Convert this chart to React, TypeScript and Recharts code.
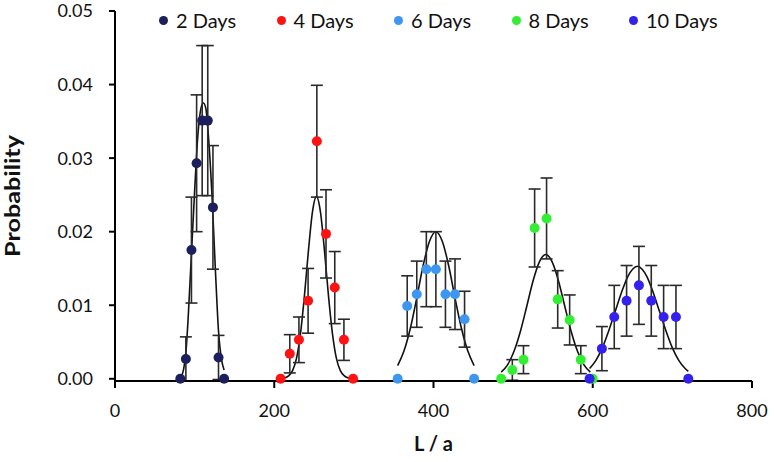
import { ComposedChart, Line, Scatter, XAxis, YAxis, ErrorBar } from 'recharts'

// Measured points (L / a, probability, error) for each growth time
const days2L = [82, 89, 96, 102.5, 109.5, 116.5, 123, 130, 137]
const days2P = [0, 0.0027, 0.0175, 0.0293, 0.0351, 0.0351, 0.0233, 0.0029, 0]
const days2E = [0, 0.003, 0.0072, 0.0093, 0.0102, 0.0102, 0.0084, 0.003, 0]

const days4L = [208, 219.5, 231, 242.5, 253.5, 265, 276, 287.5, 299]
const days4P = [0, 0.0034, 0.0053, 0.0106, 0.0323, 0.0197, 0.0124, 0.0053, 0]
const days4E = [0, 0.0026, 0.0031, 0.0044, 0.0076, 0.006, 0.0049, 0.0028, 0]

const days6L = [355, 367, 379, 391, 403, 415, 427, 439, 451]
const days6P = [0, 0.0099, 0.0115, 0.0149, 0.0149, 0.0115, 0.0115, 0.0081, 0]
const days6E = [0, 0.0041, 0.0045, 0.0051, 0.0051, 0.0045, 0.0048, 0.0038, 0]

const days8L = [485, 499, 513, 527, 542, 556, 571, 585, 600]
const days8P = [0, 0.0012, 0.0026, 0.0205, 0.0218, 0.0108, 0.008, 0.0026, 0]
const days8E = [0, 0.0014, 0.0019, 0.0053, 0.0055, 0.0039, 0.0034, 0.0019, 0]

const days10L = [596, 611.5, 627, 642.5, 658, 673.5, 689, 704.5, 720]
const days10P = [0, 0.0041, 0.0084, 0.0106, 0.0127, 0.0106, 0.0084, 0.0084, 0]
const days10E = [0, 0.003, 0.0043, 0.0048, 0.0053, 0.0048, 0.0043, 0.0043, 0]

// Fitted curves
const fit2L = [82, 86, 89, 92, 96, 100, 104, 108, 111, 114, 118, 122, 126, 130, 134, 137]
const fit2P = [0, 0.0012, 0.0035, 0.0085, 0.017, 0.0255, 0.033, 0.0368, 0.0375, 0.0368, 0.032, 0.0245, 0.015, 0.0065, 0.0025, 0.0012]

const fit4L = [208, 213, 218, 223, 228, 233, 238, 243, 248, 253, 258, 263, 268, 273, 278, 283, 288, 293, 298]
const fit4P = [0, 0.0001, 0.0004, 0.0011, 0.0028, 0.0062, 0.0114, 0.0175, 0.0227, 0.0248, 0.0227, 0.0175, 0.0114, 0.0062, 0.0028, 0.0011, 0.0004, 0.0001, 0]

const fit6L = [355, 363, 371, 379, 387, 395, 403, 411, 419, 427, 435, 443, 451]
const fit6P = [0.0018, 0.0038, 0.0069, 0.011, 0.0154, 0.0187, 0.02, 0.0187, 0.0154, 0.011, 0.0069, 0.0038, 0.0018]

const fit8L = [485, 493, 501, 509, 517, 525, 533, 541, 549, 557, 565, 573, 581, 589, 597]
const fit8P = [0.0009, 0.0019, 0.0037, 0.0064, 0.0098, 0.0133, 0.0159, 0.0169, 0.0159, 0.0133, 0.0098, 0.0064, 0.0037, 0.0019, 0.0009]

const fit10L = [596, 604, 612, 620, 628, 636, 644, 650, 656, 662, 668, 676, 684, 692, 700, 708, 716, 720]
const fit10P = [0.0014, 0.0025, 0.0042, 0.0065, 0.0091, 0.0117, 0.0139, 0.0149, 0.0153, 0.0149, 0.0139, 0.0117, 0.0091, 0.0065, 0.0042, 0.0025, 0.0014, 0.001]

const xTicks = [0, 200, 400, 600, 800]
const yTicks = [0, 0.01, 0.02, 0.03, 0.04, 0.05]

const FONT = 'Lato, "Noto Sans", sans-serif'

const toPoints = (L: number[], P: number[], E: number[]) => L.map((x, i) => ({ x, y: P[i], err: E[i] }))
const toCurve = (L: number[], P: number[]) => L.map((x, i) => ({ x, y: P[i] }))

const series = [
  { name: '2 Days', color: '#1b1f5c', data: toPoints(days2L, days2P, days2E), fit: toCurve(fit2L, fit2P) },
  { name: '4 Days', color: '#ff1212', data: toPoints(days4L, days4P, days4E), fit: toCurve(fit4L, fit4P) },
  { name: '6 Days', color: '#3d97f0', data: toPoints(days6L, days6P, days6E), fit: toCurve(fit6L, fit6P) },
  { name: '8 Days', color: '#33ee33', data: toPoints(days8L, days8P, days8E), fit: toCurve(fit8L, fit8P) },
  { name: '10 Days', color: '#3322ee', data: toPoints(days10L, days10P, days10E), fit: toCurve(fit10L, fit10P) },
]

const tickStyle = { fontSize: 18, fill: '#111', fontFamily: FONT }

export default function App() {
  return (
    <div style={{ position: 'absolute', left: 0, top: 0, width: 774, height: 462, background: '#fff' }}>
      <ComposedChart width={774} height={462} margin={{ top: 11, right: 22, bottom: 0, left: 0 }}>
        <XAxis
          type="number" dataKey="x" domain={[0, 800]} ticks={xTicks}
          height={81} tickSize={7} tickMargin={16}
          axisLine={{ stroke: '#000', strokeWidth: 2 }} tickLine={{ stroke: '#000', strokeWidth: 2 }}
          tick={tickStyle}
          label={({ viewBox }: any) => (
            <text x={viewBox.x + viewBox.width / 2} y={viewBox.y + 70} textAnchor="middle"
              fontFamily={FONT} fontSize={20} fontWeight="bold" fill="#111">L / a</text>
          )}
        />
        <YAxis
          type="number" dataKey="y" domain={[0, 0.05]} ticks={yTicks}
          width={115} tickSize={6} tickMargin={16}
          tickFormatter={(v: number) => v.toFixed(2)}
          axisLine={{ stroke: '#000', strokeWidth: 2 }} tickLine={{ stroke: '#000', strokeWidth: 2 }}
          tick={tickStyle}
          label={({ viewBox }: any) => {
            const cy = viewBox.y + viewBox.height / 2
            return (
              <text x={20} y={cy} transform={`rotate(-90 20 ${cy})`} textAnchor="middle"
                fontFamily={FONT} fontSize={20} fontWeight="bold" fill="#111"
                textLength={122} lengthAdjust="spacingAndGlyphs">Probability</text>
            )
          }}
        />
        {series.map(s => (
          <Line key={`fit-${s.name}`} data={s.fit} dataKey="y" type="monotone" stroke="#111" strokeWidth={1.6}
            dot={false} activeDot={false} isAnimationActive={false} legendType="none" />
        ))}
        {series.map(s => (
          <Scatter key={s.name} name={s.name} data={s.data} dataKey="y" fill={s.color} isAnimationActive={false}
            shape={(p: any) => <circle cx={p.cx} cy={p.cy} r={5} fill={s.color} />}>
            <ErrorBar dataKey="err" direction="y" width={6} stroke="#2a2a2a" strokeWidth={1.6} />
          </Scatter>
        ))}
      </ComposedChart>
      <div style={{ position: 'absolute', top: 8, left: 159, display: 'flex', fontFamily: FONT, fontSize: 20, color: '#111' }}>
        {series.map(s => (
          <div key={s.name} style={{ width: 117.5, display: 'flex', alignItems: 'center', whiteSpace: 'nowrap' }}>
            <span style={{ width: 9, height: 9, borderRadius: 5, background: s.color, marginRight: 8, flexShrink: 0 }} />
            {s.name}
          </div>
        ))}
      </div>
    </div>
  )
}
